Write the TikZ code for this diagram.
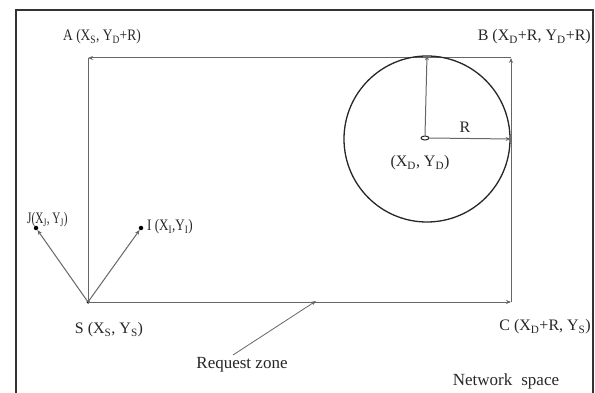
\documentclass[tikz,border=0pt]{standalone}
\usepackage{fontspec}
\setmainfont{Liberation Serif}
\usetikzlibrary{arrows.meta,shapes.geometric}
\newcommand{\hsq}[2]{\scalebox{#1}[1]{#2}}
\begin{document}
\begin{tikzpicture}[x=1pt,y=-1pt,
  lbl/.style={inner sep=0pt, font=\fontsize{16}{18}\selectfont, text=black!85},
  ln/.style={draw=black!60, line width=1pt},
  arr/.style={ln, -{Stealth[length=5pt,width=4pt]}},
  dotn/.style={circle, fill=black, inner sep=0pt, minimum size=4pt}]
\useasboundingbox (0,0) rectangle (595,393);
% outer frame
\draw[line width=1.6pt, black!80] (16,395) -- (16,10) -- (593,10) -- (593,395);
% corners
\coordinate (A) at (88,58);
\coordinate (B) at (511,58);
\coordinate (C) at (511,302);
\node[dotn, minimum size=3.5pt] (S) at (88,302) {};
\node[dotn, minimum size=4.5pt] (J) at (36,228) {};
\node[dotn, minimum size=4.5pt] (I) at (141,228) {};
% rectangle
\draw[arr] (B) -- (A);
\draw[ln] (S.center) -- (A);
\draw[arr] (S.center) -- (C);
\draw[arr] (C) -- (B);
\draw[arr] (S.center) -- (J);
\draw[arr] (S.center) -- (I);
% circle
\node[draw=black!85, line width=1.3pt, circle, minimum size=166pt, inner sep=0pt] (circ) at (427,139) {};
\node[draw=black!85, line width=1pt, ellipse, minimum width=8pt, minimum height=4pt, inner sep=0pt] (D) at (425,138) {};
\draw[arr] (D.north) -- (circ.north);
\draw[arr] (D.east) -- (circ.east);
% labels
\node[lbl, anchor=west] (la) at (63,37) {\hsq{0.84}{A (X\textsubscript{S}, Y\textsubscript{D}+R)}};
\node[lbl, anchor=east] (lb) at (591,37) {B (X\textsubscript{D}+R, Y\textsubscript{D}+R)};
\node[lbl] (lr) at (465,127) {R};
\node[lbl] (ld) at (420,163) {(X\textsubscript{D}, Y\textsubscript{D})};
\node[lbl, anchor=west] (lj) at (27,220) {\hsq{0.7}{J(X\textsubscript{J}, Y\textsubscript{J})}};
\node[lbl, anchor=west] (li) at (147,227) {\hsq{0.82}{I (X\textsubscript{I},Y\textsubscript{I})}};
\node[lbl] (ls) at (109,330) {S (X\textsubscript{S}, Y\textsubscript{S})};
\node[lbl, anchor=east] (lc) at (591,327) {C (X\textsubscript{D}+R, Y\textsubscript{S})};
\node[lbl, font=\fontsize{17}{19}\selectfont] (lq) at (242,365) {Request zone};
\node[lbl, font=\fontsize{17}{19}\selectfont] (ln) at (506,381) {Network\hspace{9pt}space};
\coordinate (rz) at (316,301);
\draw[ln, line width=0.8pt, -{Stealth[length=5pt,width=4pt]}] (233,355) -- (rz);
\end{tikzpicture}
\end{document}
